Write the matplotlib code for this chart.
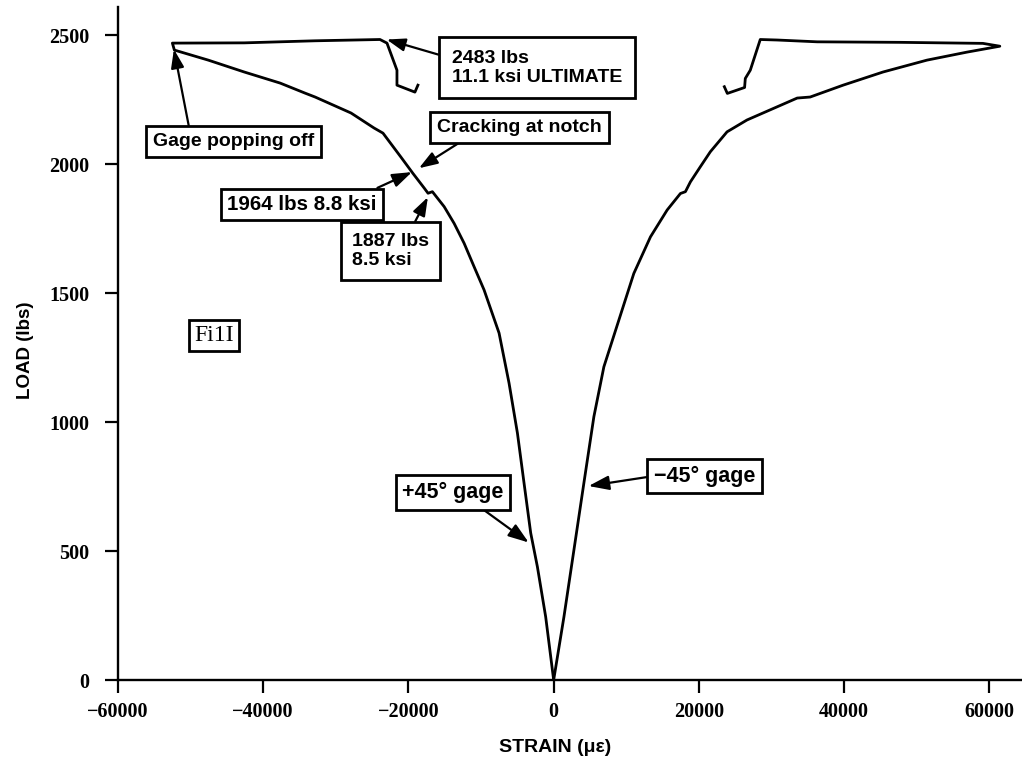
import matplotlib

matplotlib.use("Agg")
import matplotlib.pyplot as plt

# +45 deg gage: load path from origin out to gage pop-off, then top plateau
plus_strain = [0, -1100, -2241, -3162, -4083, -4990, -6145, -7519, -9581,
               -10956, -12330, -13705, -15080, -16700, -17300, -17800,
               -19382, -21031, -23506, -24743, -27904, -32853, -34228,
               -37664, -42613, -47561, -52235,
               -52510, -42613, -32853, -23918, -22956, -21581, -21581,
               -19107, -18695]
plus_load = [0, 245, 439, 570, 764, 957, 1151, 1345, 1512,
             1602, 1693, 1770, 1835, 1893, 1887, 1906,
             1964, 2027, 2120, 2140, 2198, 2260, 2275,
             2314, 2357, 2403, 2442,
             2469, 2470, 2478, 2483, 2469, 2364, 2306,
             2279, 2306]

# -45 deg gage
minus_strain = [0, 1416, 2790, 4165, 5540, 6914, 8976, 11038, 13334, 15630,
                17457, 18145, 18832, 20207, 21581, 23877, 26626, 33540,
                35327, 39863, 45362, 51410, 56908, 61445, 59108, 47699,
                36290, 30791, 28454, 27080, 26392, 26296, 23918, 23506]
minus_load = [0, 245, 504, 764, 1021, 1214, 1395, 1576, 1718, 1822,
              1886, 1893, 1931, 1990, 2048, 2125, 2171, 2256,
              2260, 2306, 2357, 2403, 2434, 2457, 2468, 2472,
              2474, 2481, 2483, 2364, 2332, 2297, 2274, 2300]

x_ticks = [-60000, -40000, -20000, 0, 20000, 40000, 60000]
y_ticks = [0, 500, 1000, 1500, 2000, 2500]

# callouts: text, target (strain, load), text anchor (axes frac), ha,
# arrow start on box, font size, box pad
notes = [
    ("2483 lbs\n11.1 ksi ULTIMATE", (-23000, 2483), (0.3695, 0.910), "left", (0, 0.75), 14, 0.65),
    ("Gage popping off", (-52300, 2445), (0.128, 0.800), "center", (0.23, 1), 14, 0.35),
    ("Cracking at notch", (-18557, 1984), (0.444, 0.821), "center", (0.2, 0), 14, 0.35),
    ("1964 lbs 8.8 ksi", (-19520, 1969), (0.2035, 0.7065), "center", (0.9, 1), 14.8, 0.3),
    ("1887 lbs\n8.5 ksi", (-17320, 1872), (0.259, 0.6374), "left", (0.74, 1), 14, 0.55),
    ("+45\u00b0 gage", (-3436, 533), (0.3706, 0.2786), "center", (0.71, 0), 15.5, 0.3),
    ("\u221245\u00b0 gage", (4811, 752), (0.6488, 0.3031), "center", (0, 0.5), 15.5, 0.3),
]

W, H = 1022, 769
fig = plt.figure(figsize=(W / 100, H / 100), dpi=100)
ax = fig.add_axes([118 / W, 1 - 680 / H, (W - 118) / W, (680 - 7) / H])

ax.plot(plus_strain, plus_load, color="black", lw=2.0, solid_joinstyle="round")
ax.plot(minus_strain, minus_load, color="black", lw=2.0, solid_joinstyle="round")

ax.set_xlim(-60000, 64500)
ax.set_ylim(0, 2609)
ax.set_xticks(x_ticks)
ax.set_yticks(y_ticks)
ax.set_xticklabels([str(t).replace("-", "\u2212") for t in x_ticks])
for s in ("top", "right"):
    ax.spines[s].set_visible(False)
for s in ("left", "bottom"):
    ax.spines[s].set_linewidth(1.7)
ax.tick_params(axis="y", direction="out", length=9.5, width=1.6, pad=11)
ax.tick_params(axis="x", direction="out", length=9, width=1.6, pad=7)
for lab in ax.get_xticklabels() + ax.get_yticklabels():
    lab.set_fontfamily("Liberation Serif")
    lab.set_fontweight("bold")
    lab.set_fontsize(14.5)

fig.text(25 / W, 1 - 350 / H, "LOAD (lbs)", rotation=90, ha="center", va="center",
         fontsize=13.5, fontweight="bold", family="Liberation Sans")
fig.text(555 / W, 1 - 748 / H, "STRAIN (\u03bc\u03b5)", ha="center", va="center",
         fontsize=14, fontweight="bold", family="Liberation Sans")

for text, target, pos, ha, rel, size, pad in notes:
    ax.annotate(text, xy=target, xycoords="data", xytext=pos, textcoords="axes fraction",
                ha=ha, va="center", fontsize=size, fontweight="bold",
                family="Liberation Sans", linespacing=1.15,
                bbox=dict(boxstyle=f"square,pad={pad}", fc="white", ec="black", lw=2.0),
                arrowprops=dict(arrowstyle="-|>,head_length=0.8,head_width=0.28",
                                color="black", lw=1.6, relpos=rel,
                                shrinkA=0, shrinkB=0))

ax.text(0.1062, 0.5119, "Fi1I", transform=ax.transAxes, ha="center", va="center",
        fontsize=17, family="Liberation Serif",
        bbox=dict(boxstyle="square,pad=0.2", fc="white", ec="black", lw=2.0))

fig.savefig("out.png", dpi=100)
